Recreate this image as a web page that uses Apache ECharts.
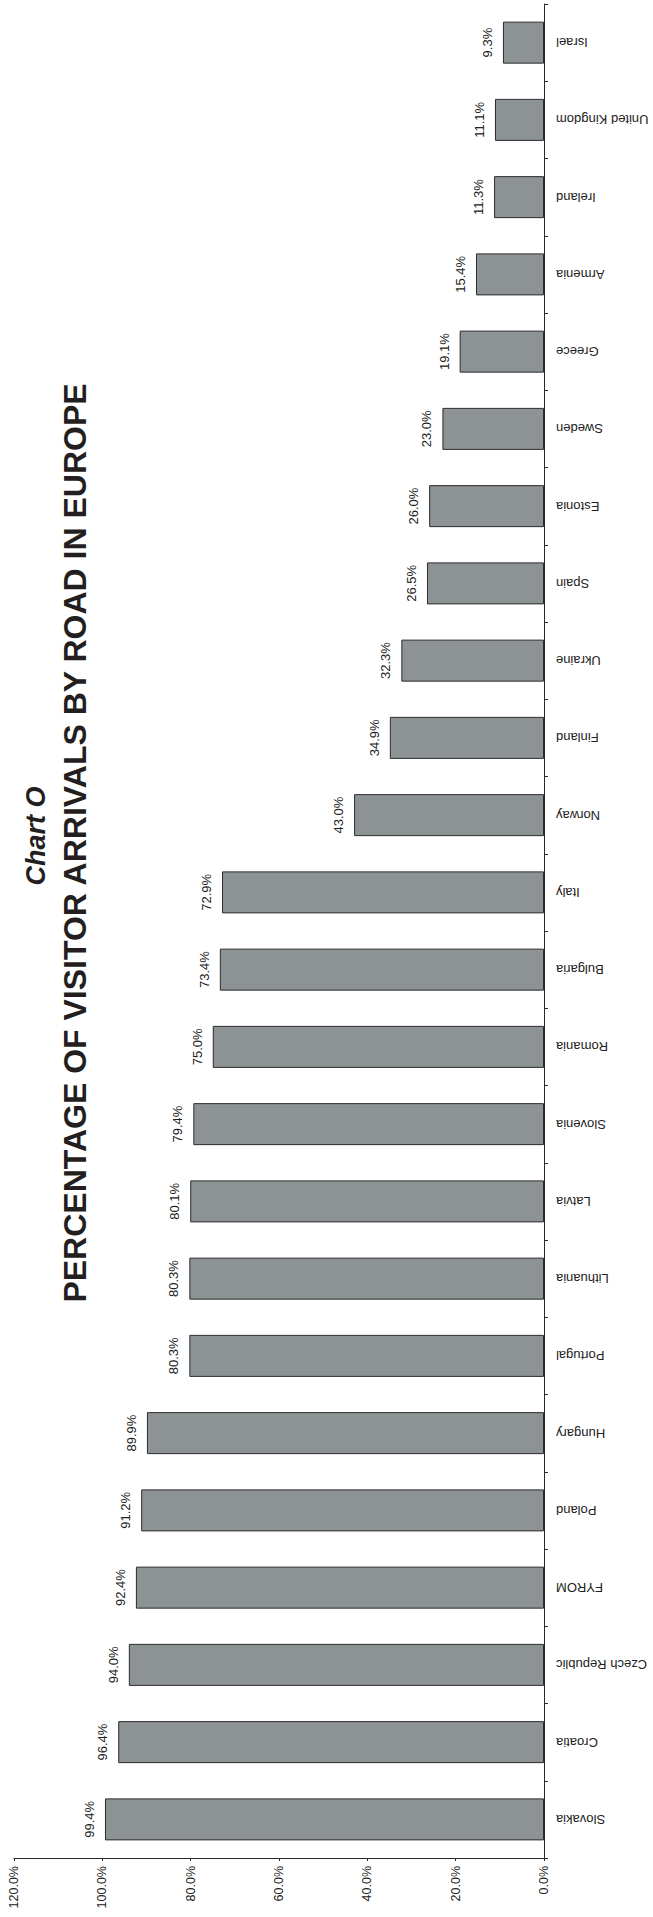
<!DOCTYPE html>
<html>
<head>
<meta charset="utf-8">
<script src="https://cdn.jsdelivr.net/npm/echarts@6/dist/echarts.min.js"></script>
<style>
  html, body { margin: 0; padding: 0; background: #ffffff; }
  #chart { width: 653px; height: 1917px; }
</style>
</head>
<body>
<div id="chart"></div>
<script>
// Categories listed from bottom to top of the page
const categories = ['Slovakia', 'Croatia', 'Czech Republic', 'FYROM', 'Poland', 'Hungary',
  'Portugal', 'Lithuania', 'Latvia', 'Slovenia', 'Romania', 'Bulgaria', 'Italy',
  'Norway', 'Finland', 'Ukraine', 'Spain', 'Estonia', 'Sweden', 'Greece',
  'Armenia', 'Ireland', 'United Kingdom', 'Israel'];
const values = [99.4, 96.4, 94.0, 92.4, 91.2, 89.9,
  80.3, 80.3, 80.1, 79.4, 75.0, 73.4, 72.9,
  43.0, 34.9, 32.3, 26.5, 26.0, 23.0, 19.1,
  15.4, 11.3, 11.1, 9.3];
const valueTicks = [0, 20, 40, 60, 80, 100, 120];
const titleTop = 'Chart O';
const titleMain = 'PERCENTAGE OF VISITOR ARRIVALS BY ROAD IN EUROPE';

const FONT = '"Liberation Sans", Arial, Helvetica, sans-serif';
const chart = echarts.init(document.getElementById('chart'), null, { renderer: 'svg' });

chart.setOption({
  backgroundColor: '#ffffff',
  animation: false,
  grid: { left: 14, right: 109, top: 4, bottom: 59, containLabel: false },
  xAxis: {
    type: 'value',
    inverse: true,
    position: 'bottom',
    min: valueTicks[0],
    max: valueTicks[valueTicks.length - 1],
    interval: 20,
    splitLine: { show: false },
    axisLine: { show: true, lineStyle: { color: '#2a2a2a', width: 1 } },
    axisTick: { show: true, length: 3, lineStyle: { color: '#2a2a2a' } },
    axisLabel: {
      rotate: 90,
      margin: 8,
      fontFamily: FONT,
      fontSize: 12.5,
      color: '#222',
      formatter: v => v.toFixed(1) + '%'
    }
  },
  yAxis: {
    type: 'category',
    position: 'right',
    data: categories,
    axisLine: { show: true, lineStyle: { color: '#2a2a2a', width: 1 } },
    axisTick: { show: true, length: 4, alignWithLabel: false, lineStyle: { color: '#2a2a2a' } },
    axisLabel: {
      rotate: 180,
      interval: 0,
      margin: 12,
      fontFamily: FONT,
      fontSize: 13,
      color: '#222'
    }
  },
  series: [{
    type: 'bar',
    data: values,
    barWidth: 42,
    itemStyle: { color: '#8d9294', borderColor: '#2b2b2b', borderWidth: 1 },
    label: {
      show: true,
      position: 'left',
      distance: 9,
      rotate: 90,
      align: 'center',
      verticalAlign: 'bottom',
      fontFamily: FONT,
      fontSize: 13,
      color: '#222',
      formatter: p => p.value.toFixed(1) + '%'
    }
  }],
  graphic: [
    {
      type: 'text',
      x: 36, y: 836,
      rotation: Math.PI / 2,
      style: {
        text: titleTop,
        font: 'italic bold 27px ' + FONT,
        fill: '#231f20',
        textAlign: 'center',
        textVerticalAlign: 'middle'
      }
    },
    {
      type: 'text',
      x: 75, y: 843,
      rotation: Math.PI / 2,
      style: {
        text: titleMain,
        font: 'bold 32px ' + FONT,
        fill: '#231f20',
        textAlign: 'center',
        textVerticalAlign: 'middle'
      }
    }
  ]
});
</script>
</body>
</html>
